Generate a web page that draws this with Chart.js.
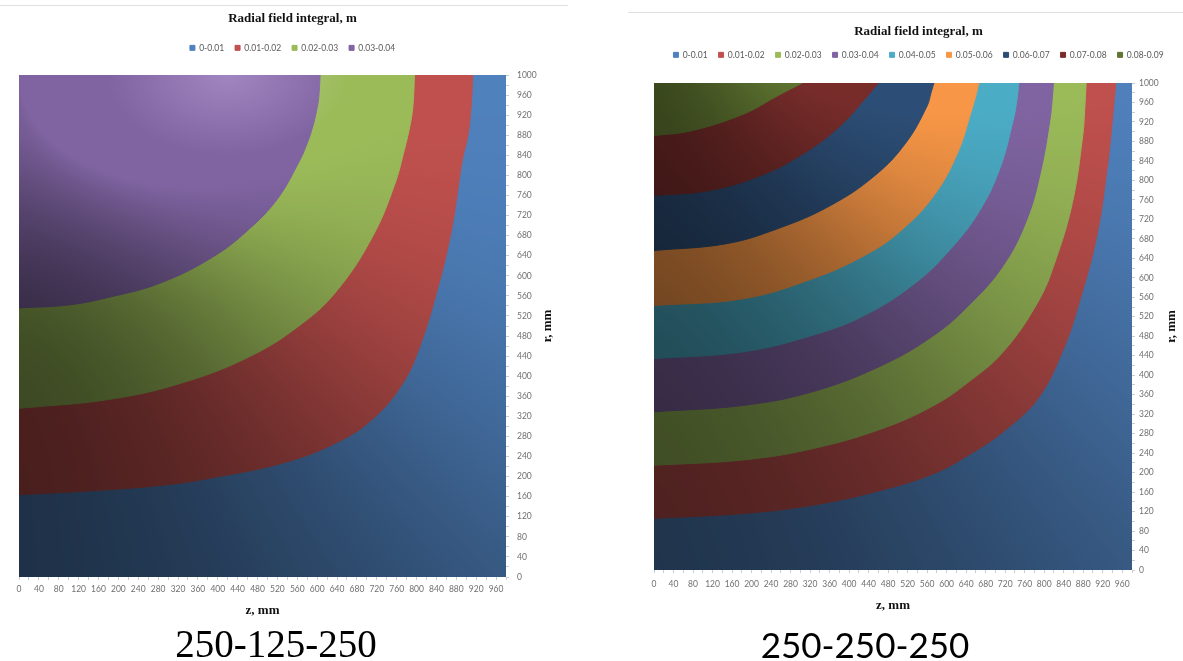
<!DOCTYPE html>
<html>
<head>
<meta charset="utf-8">
<script src="https://cdn.jsdelivr.net/npm/chart.js@4.4.1/dist/chart.umd.min.js"></script>
<style>
  html, body { margin: 0; padding: 0; background: #fff; }
  body { width: 1183px; height: 661px; position: relative; overflow: hidden; }
  canvas { position: absolute; top: 0; }
  #chartA { left: 0; }
  #chartB { left: 620px; }
  .frame { position: absolute; height: 0; border-top: 1px solid #e0e0e0; }
  .caption { position: absolute; color: #000; white-space: nowrap; line-height: 1; transform: translateX(-50%); }
</style>
</head>
<body>
<div class="frame" style="left:0;top:5px;width:568px"></div>
<div class="frame" style="left:628px;top:12px;width:555px"></div>
<canvas id="chartA" width="566" height="628"></canvas>
<canvas id="chartB" width="563" height="628"></canvas>
<div class="caption" style="left:276px;top:624px;font-family:'Liberation Serif';font-size:39px">250-125-250</div>
<div class="caption" style="left:865px;top:627px;font-family:Lato;font-size:35px">250-250-250</div>

<script>
// legend labels (band ranges)
const levelsA = ['0-0.01', '0.01-0.02', '0.02-0.03', '0.03-0.04'];
const levelsB = ['0-0.01', '0.01-0.02', '0.02-0.03', '0.03-0.04', '0.04-0.05', '0.05-0.06', '0.06-0.07', '0.07-0.08', '0.08-0.09'];

// band colours (Excel 2010 palette)
const bandColors = ['#4F81BD', '#C0504D', '#9BBB59', '#8064A2', '#4BACC6', '#F79646', '#2C4D75', '#772C2A', '#5F7530'];

// axis ticks
const zMax = 980;
const rMax = 1000;
const tickStep = 40;

// contour lines [z, r] in mm
// 250-125-250
const bottomLine = [[0, 0], [980, 0]];
const contA1 = [[0, 164], [150, 172], [300, 184], [391, 198], [534, 228], [642, 269], [713, 316], [771, 384], [806, 458], [842, 573], [871, 695], [892, 830], [903, 878], [908, 918], [911, 955], [913, 1000]];
const contA2 = [[0, 336], [176, 353], [319, 384], [462, 438], [570, 505], [642, 573], [713, 681], [756, 782], [775, 849], [788, 905], [793, 942], [796, 1000]];
const contA3 = [[0, 536], [100, 542], [176, 556], [283, 585], [391, 638], [462, 692], [520, 753], [563, 826], [580, 864], [591, 897], [598, 925], [603, 954], [606, 1000]];

// 250-250-250
const contB1 = [[0, 106], [183, 116], [325, 133], [467, 164], [574, 198], [645, 236], [716, 284], [787, 352], [837, 448], [872, 550], [908, 687], [929, 824], [937, 895], [943, 960], [947, 1000]];
const contB2 = [[0, 215], [183, 226], [325, 249], [467, 290], [574, 338], [645, 386], [716, 448], [787, 550], [822, 632], [858, 755], [879, 892], [883, 945], [886, 1000]];
const contB3 = [[0, 325], [183, 338], [325, 366], [467, 420], [574, 482], [645, 543], [716, 625], [765, 721], [794, 824], [812, 926], [816, 962], [819, 1000]];
const contB4 = [[0, 434], [183, 448], [325, 482], [432, 523], [538, 591], [609, 660], [666, 735], [709, 824], [737, 926], [744, 965], [748, 1000]];
const contB5 = [[0, 543], [183, 557], [325, 598], [432, 646], [503, 694], [574, 769], [623, 858], [652, 947], [660, 975], [666, 1000]];
const contB6 = [[0, 656], [148, 670], [254, 701], [361, 748], [453, 810], [517, 878], [560, 953], [568, 980], [574, 1000]];
const contB7 = [[0, 769], [112, 779], [219, 810], [311, 858], [382, 912], [432, 967], [460, 1000]];
const contB8 = [[0, 892], [77, 902], [183, 936], [254, 974], [304, 1000]];

const linesA = [bottomLine, contA1, contA2, contA3];
const linesB = [bottomLine, contB1, contB2, contB3, contB4, contB5, contB6, contB7, contB8];

function makeDatasets(labels, lines) {
    let sets = [];
    for (let i = 0; i < labels.length; i++) {
        sets.push({
            label: labels[i],
            data: lines[i].map(p => ({x: p[0], y: p[1]})),
            showLine: true,
            fill: 'end',           // band = everything above its lower contour
            backgroundColor: bandColors[i],
            borderColor: bandColors[i],
            borderWidth: 1,
            pointRadius: 0,
            tension: 0.4,
            order: labels.length - i   // higher levels drawn on top
        });
    }
    return sets;
}

// fake 3D lighting like the Excel contour surface
function shadePlugin(p) {
    return {
        id: 'shade',
        afterDatasetsDraw(chart) {
            const a = chart.chartArea;
            const w = Math.round(a.right - a.left);
            const h = Math.round(a.bottom - a.top);
            const off = document.createElement('canvas');
            off.width = w;
            off.height = h;
            const octx = off.getContext('2d');
            const img = octx.createImageData(w, h);
            const xs = chart.scales.x;
            const ys = chart.scales.y;
            for (let j = 0; j < h; j++) {
                const r = ys.getValueForPixel(a.top + j + 0.5) / 1000;
                const v = (p.cr - r) / p.ay;
                for (let i = 0; i < w; i++) {
                    const z = xs.getValueForPixel(a.left + i + 0.5) / 1000;
                    const u = z / p.ax;
                    let t = Math.atan2(u * u, v * v) / (Math.PI / 2);
                    t = Math.pow(t, 0.75);
                    let b = p.low + (1 - p.low) * t + p.amp * Math.exp(-(u * u + v * v) / (p.sigma * p.sigma));
                    b = Math.max(0, Math.min(1, b));
                    const k = (j * w + i) * 4;
                    img.data[k] = img.data[k + 1] = img.data[k + 2] = b * 255;
                    img.data[k + 3] = 255;
                }
            }
            octx.putImageData(img, 0, 0);
            const ctx = chart.ctx;
            ctx.save();
            ctx.beginPath();
            ctx.rect(a.left, a.top, w, h);
            ctx.clip();
            ctx.globalCompositeOperation = 'multiply';
            ctx.drawImage(off, a.left, a.top);
            if (p.glow) {
                const gx = xs.getPixelForValue(p.glow[0]);
                const gy = ys.getPixelForValue(p.glow[1]);
                ctx.globalCompositeOperation = 'screen';
                ctx.translate(gx, gy);
                ctx.scale(1.5, 1);
                const g = ctx.createRadialGradient(0, 0, 0, 0, 0, p.glow[2]);
                g.addColorStop(0, 'rgba(200,170,255,0.32)');
                g.addColorStop(1, 'rgba(200,170,255,0)');
                ctx.fillStyle = g;
                ctx.fillRect(-p.glow[2], -p.glow[2], p.glow[2] * 2, p.glow[2] * 2);
            }
            ctx.restore();
        }
    };
}

// right-hand axis title, reading bottom to top
function rTitlePlugin(x) {
    return {
        id: 'rTitle',
        afterDraw(chart) {
            const ctx = chart.ctx;
            const a = chart.chartArea;
            ctx.save();
            ctx.translate(x, (a.top + a.bottom) / 2);
            ctx.rotate(-Math.PI / 2);
            ctx.font = 'bold 13px "Liberation Serif"';
            ctx.fillStyle = '#111';
            ctx.textAlign = 'center';
            ctx.textBaseline = 'middle';
            ctx.fillText('r, mm', 0, 0);
            ctx.restore();
        }
    };
}

// extra room between legend and plot
function legendGap(gap) {
    return {
        id: 'legendGap',
        beforeInit(chart) {
            const fit = chart.legend.fit;
            chart.legend.fit = function () {
                fit.bind(chart.legend)();
                this.height += gap;
            };
        }
    };
}

function makeChart(canvas, labels, lines, lay) {
    return new Chart(canvas, {
        type: 'scatter',
        data: { datasets: makeDatasets(labels, lines) },
        options: {
            responsive: false,
            animation: false,
            events: [],
            layout: { padding: { left: lay.left, top: lay.top, right: 0, bottom: 0 } },
            plugins: {
                title: {
                    display: true,
                    text: 'Radial field integral, m',
                    color: '#111',
                    font: { family: 'Liberation Serif', size: 13, weight: 'bold' },
                    padding: { top: 5, bottom: lay.titleGap }
                },
                legend: {
                    position: 'top',
                    labels: {
                        boxWidth: 5,
                        boxHeight: 5,
                        padding: 11,
                        color: '#595959',
                        font: { family: 'Lato', size: 8.5 },
                        sort: (a, b) => a.datasetIndex - b.datasetIndex
                    }
                },
                tooltip: { enabled: false }
            },
            scales: {
                x: {
                    type: 'linear',
                    position: 'bottom',
                    min: 0,
                    max: zMax,
                    border: { display: false },
                    grid: { drawOnChartArea: false, tickLength: 3, color: '#c5ceda' },
                    ticks: {
                        stepSize: tickStep / 2,
                        includeBounds: false,
                        autoSkip: false,
                        maxRotation: 0,
                        padding: lay.xPad,
                        color: '#707070',
                        font: { family: 'Lato', size: 8.5 },
                        callback: v => (v % tickStep === 0 ? v : '')
                    },
                    title: {
                        display: true,
                        text: 'z, mm',
                        color: '#111',
                        font: { family: 'Liberation Serif', size: 13, weight: 'bold' },
                        padding: { top: 0, bottom: lay.zTitle }
                    },
                    afterFit: s => { s.height = lay.xh; }
                },
                y: {
                    type: 'linear',
                    position: 'right',
                    min: 0,
                    max: rMax,
                    border: { display: false },
                    grid: { drawOnChartArea: false, tickLength: 3, color: '#c5ceda' },
                    ticks: {
                        stepSize: tickStep / 2,
                        includeBounds: false,
                        autoSkip: false,
                        padding: lay.yPad,
                        color: '#707070',
                        font: { family: 'Lato', size: 8.5 },
                        callback: v => (v % tickStep === 0 ? v : '')
                    },
                    afterFit: s => { s.width = lay.yw; }
                }
            }
        },
        plugins: [shadePlugin(lay.shade), rTitlePlugin(lay.rx), legendGap(lay.gap)]
    });
}

makeChart(document.getElementById('chartA'), levelsA, linesA, {
    left: 19, top: 6, titleGap: 6, gap: 12.9,
    xh: 51, yw: 60, xPad: 4, yPad: 8, zTitle: 10, rx: 548,
    shade: { ax: 1.15, ay: 1.0, cr: 1.0, low: 0.38, amp: 0.6, sigma: 0.32, glow: [420, 1000, 80] }
});

makeChart(document.getElementById('chartB'), levelsB, linesB, {
    left: 34, top: 19, titleGap: 0, gap: 13.9,
    xh: 58, yw: 51, xPad: 6, yPad: 4, zTitle: 15, rx: 552,
    shade: { ax: 1.2, ay: 1.25, cr: 1.25, low: 0.4, amp: 0.25, sigma: 0.5 }
});
</script>
</body>
</html>
